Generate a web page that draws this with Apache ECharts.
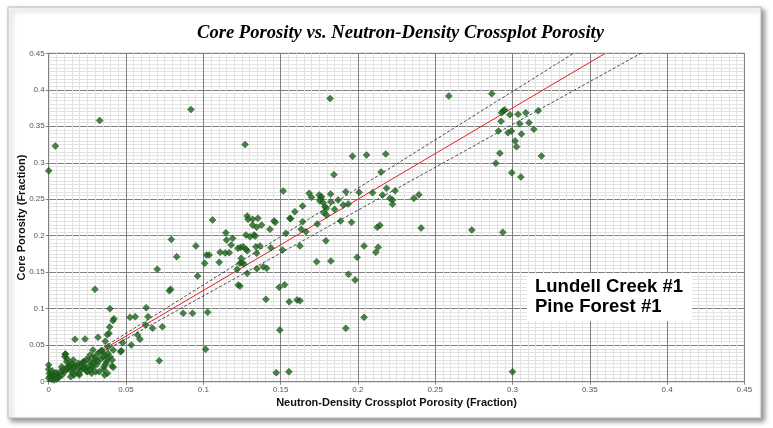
<!DOCTYPE html>
<html>
<head>
<meta charset="utf-8">
<script src="https://cdn.jsdelivr.net/npm/echarts@6/dist/echarts.min.js"></script>
<style>
html,body{margin:0;padding:0;background:#ffffff;}
#main{width:773px;height:428px;}
</style>
</head>
<body>
<div id="main"></div>
<script>
// ---- data (x = Neutron-Density crossplot porosity, y = core porosity) ----
var titleText = 'Core Porosity vs. Neutron-Density Crossplot Porosity';
var xAxisName = 'Neutron-Density Crossplot Porosity (Fraction)';
var yAxisName = 'Core Porosity (Fraction)';
var wellLabels = ['Lundell Creek #1', 'Pine Forest #1'];

var originCluster = [
[0.000,0.0229],[0.000,0.0169],[0.0004,0.0115],[0.0008,0.0069],[0.0015,0.0092],[0.0023,0.0147],[0.003,0.0106],[0.0039,0.0069],[0.0047,0.0124],[0.0056,0.0092],[0.0062,0.0055],[0.0073,0.0137],[0.0084,0.0206],[0.0095,0.0169],[0.0105,0.0343],[0.0108,0.038],[0.0116,0.0275],[0.0123,0.0206],[0.0138,0.0229],[0.0142,0.016],[0.0155,0.0115],[0.0164,0.0197],[0.0181,0.016],[0.0192,0.0252],[0.0198,0.0092],[0.0207,0.0206],[0.0224,0.0275],[0.0237,0.0183],[0.025,0.0138],[0.0256,0.0197],[0.0267,0.0275],[0.0278,0.0115],[0.0299,0.0334],[0.0304,0.0138],[0.0314,0.0243],[0.0323,0.0389],[0.0327,0.0138],[0.0336,0.0306],[0.0345,0.0425],[0.0353,0.0343],[0.0357,0.0206],[0.0364,0.0366],[0.0375,0.0275],[0.0379,0.0115],[0.0385,0.048],[0.0396,0.0343],[0.0409,0.0215],[0.0418,0.0434],
[0,0.0046],[0.002,0.0032],[0.0034,0.0023],[0.0052,0.0037],[0.0069,0.0069],[0.0086,0.0092],[0.0103,0.0137],[0.0116,0.0169],[0.0133,0.0206],[0.0149,0.0252],[0.0159,0.0297],[0.0176,0.0215],[0.0213,0.0169],[0.0228,0.024],[0.0245,0.0306],[0.0284,0.0252],[0.0289,0.0206],[0.0267,0.016],
[0.0383,0.0389],[0.0379,0.032],[0.0411,0.0297],[0.0368,0.0243],[0.0418,0.0197],[0.0356,0.017],[0.0362,0.0092],[0.0315,0.0284],[0.0278,0.0205],[0.0297,0.031],[0.0267,0.0366],[0.0217,0.0252],[0.0224,0.0184],[0.0246,0.0142],[0.0196,0.0115],[0.0164,0.0092],[0.0142,0.0069],[0.0107,0.0375],[0.012,0.031],[0.0286,0.0434],[0.034,0.0425]
];

var lowPoints = [
[0.0793,0.195],[0.0952,0.186],[0.0828,0.1713],[0.0702,0.154],[0.078,0.1247],[0.0789,0.1266],[0.0963,0.1448],[0.087,0.0937],[0.093,0.0937],[0.1028,0.095],[0.1015,0.0444],[0.0715,0.0288],[0.0672,0.0731],[0.0735,0.0754],[0.0642,0.089],[0.0631,0.1014],[0.0627,0.0777],[0.056,0.089],[0.0526,0.0882],[0.0575,0.064],[0.059,0.058],[0.0534,0.0503],[0.0478,0.0535],[0.0465,0.0411],[0.047,0.0425],
[0.0396,0.100],[0.0422,0.0863],[0.0416,0.0836],[0.0394,0.075],[0.039,0.0663],[0.0379,0.0644],[0.0366,0.0553],[0.0299,0.1266],[0.0319,0.0608],[0.0235,0.0585],[0.017,0.058]
];

var midPoints = [
[0.106,0.2216],[0.1284,0.227],[0.1289,0.2225],[0.1319,0.2225],[0.1353,0.2239],[0.1319,0.2147],[0.1345,0.2116],[0.1377,0.2147],[0.1431,0.2088],[0.1457,0.2202],[0.1466,0.2184],[0.156,0.2239],
[0.1146,0.204],[0.115,0.194],[0.118,0.1873],[0.119,0.1965],[0.1224,0.1828],[0.1241,0.184],[0.1258,0.185],[0.1276,0.1814],[0.1284,0.1795],[0.1276,0.201],[0.1302,0.1987],[0.1327,0.201],[0.1336,0.1996],[0.134,0.185],[0.1366,0.186],[0.1345,0.176],[0.1245,0.169],[0.1237,0.1622],[0.125,0.163],[0.1263,0.1613],[0.1226,0.1325],[0.1237,0.131],[0.1284,0.1485],[0.1219,0.154],[0.1388,0.1576],[0.141,0.1554],[0.1347,0.1549],[0.1405,0.1129],[0.1491,0.1293],[0.1526,0.1329],[0.1556,0.1096],[0.1607,0.112],[0.1495,0.0708],[0.1472,0.0124],[0.1554,0.0137],
[0.1142,0.1764],[0.1168,0.1768],[0.1109,0.1773],[0.1103,0.1636],[0.1009,0.1622],[0.1021,0.1736],[0.1038,0.1736],[0.1513,0.1805],[0.1437,0.1836]
];

var upperPoints = [
[0.1685,0.2581],[0.17,0.2527],[0.175,0.2558],[0.1759,0.2513],[0.1765,0.2535],[0.1754,0.2476],[0.1776,0.2453],[0.1823,0.2572],[0.1825,0.2466],[0.1786,0.2398],[0.1797,0.2376],[0.1849,0.2362],[0.1872,0.249],[0.1922,0.2603],[0.1905,0.2421],[0.1937,0.2435],[0.2008,0.2595],[0.2095,0.259],[0.2159,0.2558],[0.2185,0.265],[0.2241,0.2617],[0.2207,0.2513],[0.2224,0.249],[0.2224,0.2431],[0.2362,0.2513],[0.2394,0.2562],
[0.1592,0.233],[0.1642,0.2408],[0.1565,0.2234],[0.1642,0.2192],[0.1633,0.2088],[0.1664,0.2055],[0.1737,0.2161],[0.1779,0.2316],[0.1797,0.2284],[0.1888,0.2202],[0.1959,0.2184],[0.2125,0.2116],[0.2142,0.2143],[0.2409,0.2106],[0.2737,0.2079],[0.2937,0.2047],
[0.1534,0.2033],[0.1625,0.186],[0.1793,0.1932],[0.1733,0.1644],[0.1825,0.1654],[0.1995,0.1705],[0.204,0.186],[0.2131,0.1842],[0.2116,0.1773],[0.1939,0.1472],[0.1982,0.1394],[0.1625,0.111],[0.204,0.0882],[0.1922,0.0731]
];

var rightCluster = [
[0.2929,0.3686],[0.294,0.3713],[0.295,0.3723],[0.2983,0.3659],[0.3036,0.3664],[0.3086,0.3686],[0.3166,0.3713],[0.2926,0.3568],[0.3047,0.3535],[0.3107,0.3549],[0.3138,0.3458],[0.2909,0.3435],[0.2971,0.3412],[0.2993,0.3435],[0.3058,0.3394],[0.3017,0.3298],[0.3026,0.322],[0.2918,0.313],[0.3187,0.3093],[0.2892,0.2993],[0.2995,0.2864],[0.3054,0.2805],[0.300,0.0137]
];

var outliers = [
[0.000,0.289],[0.0043,0.323],[0.033,0.358],[0.092,0.373],[0.127,0.325],[0.182,0.388],[0.1965,0.309],[0.2056,0.3106],[0.218,0.312],[0.1845,0.2837],[0.215,0.2873],[0.1517,0.2613],[0.2588,0.3915],[0.2866,0.3947]
];

// reference lines (end points)
var fitLine   = [[0, 0], [0.360, 0.45]];
var upperLine = [[0, 0], [0.3395, 0.45]];
var lowerLine = [[0, 0], [0.383, 0.45]];

var allPoints = originCluster.concat(lowPoints, midPoints, upperPoints, rightCluster, outliers);

var chart = echarts.init(document.getElementById('main'), null, {renderer: 'canvas'});

var axisCommon = {
  type: 'value', min: 0, max: 0.45, interval: 0.05,
  axisLine: {show: true, lineStyle: {color: '#808080', width: 1}},
  axisTick: {show: true, length: 3, lineStyle: {color: '#808080'}},
  axisLabel: {fontSize: 8, color: '#555', margin: 4, fontFamily: 'Liberation Sans, Arial, sans-serif'},
  splitLine: {show: true, lineStyle: {color: '#808080', width: 1}},
  minorTick: {show: false, splitNumber: 10},
  minorSplitLine: {show: true, lineStyle: {color: '#e2e2e2', width: 1}},
  nameLocation: 'middle',
  nameMoveOverlap: false,
  nameTextStyle: {fontSize: 11, fontWeight: 'bold', color: '#111', fontFamily: 'Liberation Sans, Arial, sans-serif'}
};

var option = {
  animation: false,
  backgroundColor: '#ffffff',
  title: {
    text: titleText,
    left: 192,
    top: 19,
    textStyle: {fontFamily: 'Liberation Serif, Times New Roman, serif', fontStyle: 'italic', fontWeight: 'bold', fontSize: 18.6, color: '#000'}
  },
  graphic: [
    {type: 'rect', z: -10, shape: {x: 8, y: 7, width: 753, height: 411},
     style: {fill: '#fff', stroke: '#b8b8b8', lineWidth: 1, shadowBlur: 5, shadowOffsetX: 3, shadowOffsetY: 3, shadowColor: 'rgba(0,0,0,0.45)'}},
    {type: 'rect', z: 100, shape: {x: 527, y: 273, width: 165, height: 48},
     style: {fill: '#fff'}},
    {type: 'text', z: 101, left: 535, top: 277,
     style: {text: wellLabels.join('\n'), fontSize: 18.5, fontWeight: 'bold', lineHeight: 20, fill: '#000', fontFamily: 'Liberation Sans, Arial, sans-serif'}}
  ],
  grid: {left: 48.7, right: 28.6, top: 53.3, bottom: 46.3, show: true, borderColor: '#808080', borderWidth: 1, backgroundColor: '#fff'},
  xAxis: Object.assign({}, axisCommon, {name: xAxisName, nameGap: 16}),
  yAxis: Object.assign({}, axisCommon, {name: yAxisName, nameGap: 21}),
  series: [
    {type: 'line', data: upperLine, symbol: 'none', z: 2, lineStyle: {color: '#222', width: 0.8, type: [3, 2]}},
    {type: 'line', data: lowerLine, symbol: 'none', z: 2, lineStyle: {color: '#222', width: 0.8, type: [3, 2]}},
    {type: 'line', data: fitLine, symbol: 'none', z: 2, lineStyle: {color: '#e0202a', width: 1}},
    {type: 'scatter', data: allPoints, symbol: 'diamond', symbolSize: 7, z: 3,
     itemStyle: {color: '#1b641b', borderColor: '#124812', borderWidth: 0.5}}
  ]
};
chart.setOption(option);
</script>
</body>
</html>
